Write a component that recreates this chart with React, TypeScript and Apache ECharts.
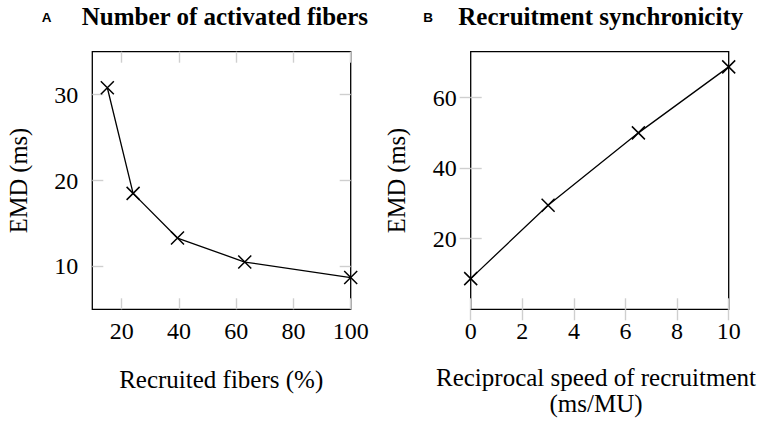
import React, { useEffect, useRef } from "react";
import * as echarts from "echarts";

// Panel A: number of activated fibers
const fibersX = [15, 24, 39.5, 63, 100];
const fibersEMD = [30.8, 18.5, 13.3, 10.5, 8.7];
const fibersXTicks = [20, 40, 60, 80, 100];
const fibersYTicks = [10, 20, 30];

// Panel B: recruitment synchronicity
const speedX = [0, 3, 6.5, 10];
const speedEMD = [8.7, 29.5, 50, 68.7];
const speedXTicks = [0, 2, 4, 6, 8, 10];
const speedYTicks = [20, 40, 60];

const SERIF = "Liberation Serif";
const SANS = "Liberation Sans";
const TICK_COLOR = "#cfcfcf";

function makeAxis(
  gridIndex: number,
  position: string,
  min: number,
  max: number,
  ticks: number[],
  showLabel: boolean,
  margin: number
) {
  return {
    type: "value",
    gridIndex,
    position,
    min,
    max,
    axisLine: { show: false },
    splitLine: { show: false },
    axisTick: {
      show: true,
      inside: true,
      length: 11,
      customValues: ticks,
      lineStyle: { color: TICK_COLOR, width: 1.4 },
    },
    axisLabel: {
      show: showLabel,
      customValues: ticks,
      margin,
      fontSize: 24,
      fontFamily: SERIF,
      fontWeight: "normal",
      color: "#000",
    },
  };
}

const CROSS = "path://M0,0L10,10M10,0L0,10";

export default function App() {
  const ref = useRef<HTMLDivElement>(null);

  useEffect(() => {
    if (!ref.current) return;
    const chart = echarts.init(ref.current, undefined, { renderer: "svg" });

    const seriesStyle = {
      type: "line",
      symbol: CROSS,
      symbolSize: 13,
      clip: false,
      lineStyle: { color: "#000", width: 1.3 },
      itemStyle: { color: "#000", borderColor: "#000", borderWidth: 1.5 },
    };

    const text = (
      t: string,
      x: number,
      y: number,
      size: number,
      family: string,
      weight: string,
      align = "left",
      rotation = 0,
      lineHeight?: number
    ) => ({
      type: "text",
      x,
      y,
      rotation,
      style: {
        text: t,
        fontSize: size,
        fontFamily: family,
        fontWeight: weight,
        lineHeight: lineHeight ?? size,
        fill: "#000",
        align,
        verticalAlign: "middle",
      },
    });

    chart.setOption({
      animation: false,
      backgroundColor: "#fff",
      textStyle: { fontFamily: SERIF, fontSize: 24, color: "#000" },
      grid: [
        {
          left: 92.3,
          top: 51.7,
          width: 258.4,
          height: 257.6,
          show: true,
          borderColor: "#000",
          borderWidth: 1.3,
          backgroundColor: "transparent",
        },
        {
          left: 470.7,
          top: 51.7,
          width: 258,
          height: 257.6,
          show: true,
          borderColor: "#000",
          borderWidth: 1.3,
          backgroundColor: "transparent",
        },
      ],
      xAxis: [
        makeAxis(0, "bottom", 9.75, 100, fibersXTicks, true, 10),
        makeAxis(0, "top", 9.75, 100, fibersXTicks, false, 10),
        makeAxis(1, "bottom", 0, 10, speedXTicks, true, 10),
        makeAxis(1, "top", 0, 10, speedXTicks, false, 10),
      ],
      yAxis: [
        makeAxis(0, "left", 5, 35, fibersYTicks, true, 14),
        makeAxis(0, "right", 5, 35, fibersYTicks, false, 14),
        makeAxis(1, "left", 0, 73, speedYTicks, true, 14),
        makeAxis(1, "right", 0, 73, speedYTicks, false, 14),
      ],
      series: [
        {
          ...seriesStyle,
          xAxisIndex: 0,
          yAxisIndex: 0,
          data: fibersX.map((x, i) => [x, fibersEMD[i]]),
        },
        {
          ...seriesStyle,
          xAxisIndex: 2,
          yAxisIndex: 2,
          data: speedX.map((x, i) => [x, speedEMD[i]]),
        },
      ],
      graphic: [
        text("A", 41.7, 17.4, 13.5, SANS, "bold"),
        text("Number of activated fibers", 81.7, 16, 25, SERIF, "bold"),
        text("B", 423.3, 17.8, 13.5, SANS, "bold"),
        text("Recruitment synchronicity", 458.3, 16, 25, SERIF, "bold"),
        text("EMD (ms)", 18, 180.5, 24.5, SERIF, "normal", "center", Math.PI / 2),
        text("EMD (ms)", 396.5, 180.5, 24.5, SERIF, "normal", "center", Math.PI / 2),
        text("Recruited fibers (%)", 221.2, 379.5, 25, SERIF, "normal", "center"),
        text(
          "Reciprocal speed of recruitment\n(ms/MU)",
          596,
          390.5,
          25,
          SERIF,
          "normal",
          "center",
          0,
          25.5
        ),
      ],
    });

    return () => chart.dispose();
  }, []);

  return (
    <div
      ref={ref}
      style={{
        position: "fixed",
        left: 0,
        top: 0,
        width: 765,
        height: 429,
        background: "#fff",
      }}
    />
  );
}
